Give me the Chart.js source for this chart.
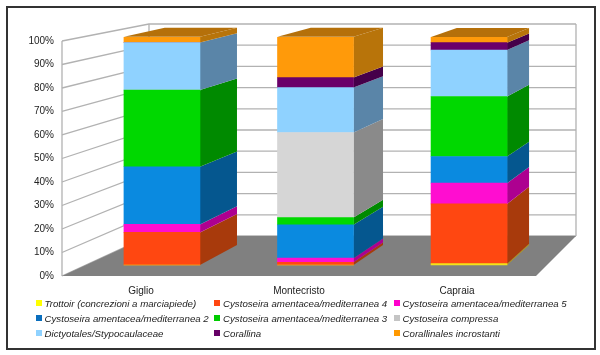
<!DOCTYPE html>
<html>
<head>
<meta charset="utf-8">
<title>Popolamenti</title>
<script src="https://cdn.jsdelivr.net/npm/chart.js@4/dist/chart.umd.min.js"></script>
<style>
  html, body { margin: 0; padding: 0; background: #fff; }
  #wrap { position: relative; width: 600px; height: 355px; overflow: hidden; }
  #legend { position: absolute; left: 0; top: 297px; width: 600px; font: italic 9.7px "Liberation Sans", sans-serif; color: #222; }
  #legend div { position: absolute; white-space: nowrap; line-height: 14px; }
  #legend i { position: absolute; left: -9px; top: 3px; width: 6px; height: 6px; }
</style>
</head>
<body>
<div id="wrap">
  <canvas id="chart" width="600" height="355"></canvas>
  <div id="legend"></div>
</div>
<script>
const islands = ['Giglio', 'Montecristo', 'Capraia'];
const yTicks = ['0%', '10%', '20%', '30%', '40%', '50%', '60%', '70%', '80%', '90%', '100%'];

const names = [
  'Trottoir (concrezioni a marciapiede)',
  'Cystoseira amentacea/mediterranea 4',
  'Cystoseira amentacea/mediterranea 5',
  'Cystoseira amentacea/mediterranea 2',
  'Cystoseira amentacea/mediterranea 3',
  'Cystoseira compressa',
  'Dictyotales/Stypocaulaceae',
  'Corallina',
  'Corallinales incrostanti'
];

const trottoir = [0, 0, 0.6];
const ca4 = [14.3, 1.2, 26.2];
const ca5 = [3.5, 1.8, 9.1];
const ca2 = [25.3, 14.6, 11.7];
const ca3 = [33.6, 3.2, 26.3];
const compressa = [0, 37.3, 0];
const dictyotales = [20.9, 19.7, 20.4];
const corallina = [0, 4.4, 3.2];
const incrostanti = [2.5, 17.9, 2.5];

const series = [trottoir, ca4, ca5, ca2, ca3, compressa, dictyotales, corallina, incrostanti];
const colors = ['#f2e21a', '#ff4711', '#ff0dd0', '#0a8ae0', '#00d800', '#d6d6d6', '#8fd2ff', '#6a006a', '#ff9a0a'];
const sideColors = ['#b89a10', '#a83a0c', '#ad0090', '#05578f', '#008a00', '#8a8a8a', '#5a85a8', '#45004a', '#b8740a'];
const legendColors = ['#ffff00', '#ff4711', '#ff00cc', '#0a6ebd', '#00cc00', '#c4c4c4', '#8fd2ff', '#660066', '#ff9900'];

// back point of the fake 3D depth
function depth(x, y) {
  return { x: x + 46.8 - 0.0489 * x, y: y - 0.0482 * (y + 150) };
}

function poly(ctx, pts, fill) {
  ctx.fillStyle = fill;
  ctx.beginPath();
  pts.forEach((p, i) => i ? ctx.lineTo(p.x, p.y) : ctx.moveTo(p.x, p.y));
  ctx.closePath();
  ctx.fill();
}

const scene = {
  id: 'scene',
  beforeDraw(chart) {
    const ctx = chart.ctx;
    const y = chart.scales.y;
    const backLeft = 149, backRight = 576, backBottom = 236, backStep = 2.12;
    const left = chart.chartArea.left, right = chart.chartArea.right;
    const y0 = y.getPixelForValue(0);

    ctx.save();
    ctx.strokeStyle = '#333';
    ctx.lineWidth = 2;
    ctx.strokeRect(7, 7, 588, 342);

    ctx.strokeStyle = '#b2b2b2';
    ctx.lineWidth = 1.3;
    y.ticks.forEach(t => {
      const by = backBottom - backStep * t.value;
      ctx.beginPath();
      ctx.moveTo(left, y.getPixelForValue(t.value));
      ctx.lineTo(backLeft, by);
      ctx.lineTo(backRight, by);
      ctx.stroke();
    });
    ctx.beginPath();
    ctx.moveTo(left, y0);
    ctx.lineTo(left, y.getPixelForValue(100));
    ctx.moveTo(backLeft, backBottom);
    ctx.lineTo(backLeft, backBottom - backStep * 100);
    ctx.moveTo(backRight, backBottom);
    ctx.lineTo(backRight, backBottom - backStep * 100);
    ctx.stroke();

    poly(ctx, [
      { x: left, y: y0 }, { x: backLeft, y: backBottom },
      { x: backRight, y: backBottom }, { x: right, y: y0 }
    ], '#808080');
    ctx.restore();
  },
  beforeDatasetsDraw(chart) {
    const ctx = chart.ctx;
    islands.forEach((_, i) => {
      let top = null;
      series.forEach((vals, s) => {
        if (!vals[i]) return;
        const el = chart.getDatasetMeta(s).data[i];
        const xr = el.x + el.width / 2;
        poly(ctx, [
          { x: xr, y: el.y }, { x: xr, y: el.base },
          depth(xr, el.base), depth(xr, el.y)
        ], sideColors[s]);
        top = el;
      });
      const xl = top.x - top.width / 2, xr = top.x + top.width / 2;
      poly(ctx, [
        { x: xl, y: top.y }, { x: xr, y: top.y },
        depth(xr, top.y), depth(xl, top.y)
      ], '#b5700a');
    });
  }
};

new Chart(document.getElementById('chart'), {
  type: 'bar',
  plugins: [scene],
  data: {
    labels: islands,
    datasets: series.map((vals, s) => ({
      label: names[s],
      data: vals.map((v, i) => ({ x: i, y: v })),
      backgroundColor: colors[s],
      xAxisID: 'xb',
      yAxisID: 'yb',
      barThickness: 76,
      borderWidth: 0
    }))
  },
  options: {
    responsive: false,
    animation: false,
    layout: { padding: { left: 22, top: 37, right: 64, bottom: 59 } },
    plugins: { legend: { display: false }, tooltip: { enabled: false } },
    scales: {
      x: {
        type: 'category',
        position: 'bottom',
        afterFit(scale) { scale.height = 20; },
        grid: { display: false, drawTicks: false },
        border: { display: false },
        ticks: { padding: 9, maxRotation: 0, color: '#222', font: { family: 'Liberation Sans', size: 10 } }
      },
      y: {
        position: 'left',
        min: 0,
        max: 101.7,
        afterFit(scale) { scale.width = 40; },
        grid: { display: false, drawTicks: false },
        border: { display: false },
        ticks: {
          stepSize: 10,
          includeBounds: false,
          padding: 8,
          color: '#222',
          font: { family: 'Liberation Sans', size: 10 },
          callback: (v) => yTicks[Math.round(v / 10)]
        }
      },
      // bars sit deeper in the box, so they get their own hidden scales
      xb: { type: 'linear', display: false, stacked: true, offset: false, min: -0.651, max: 2.436 },
      yb: { display: false, stacked: true, min: -4.825, max: 100 }
    }
  }
});

const colX = [44.5, 223, 402.5];
const legendBox = document.getElementById('legend');
names.forEach((name, i) => {
  const item = document.createElement('div');
  item.style.left = colX[i % 3] + 'px';
  item.style.top = (Math.floor(i / 3) * 15) + 'px';
  item.textContent = name;
  const swatch = document.createElement('i');
  swatch.style.background = legendColors[i];
  item.appendChild(swatch);
  legendBox.appendChild(item);
});
</script>
</body>
</html>
